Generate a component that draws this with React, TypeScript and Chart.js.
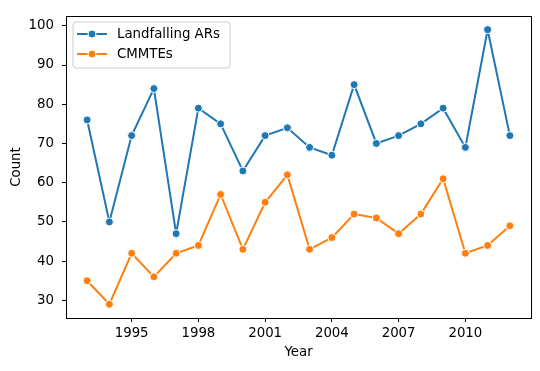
import React, { useEffect, useRef } from "react";
import { Chart, registerables } from "chart.js";

Chart.register(...registerables);

const years = [1993, 1994, 1995, 1996, 1997, 1998, 1999, 2000, 2001, 2002, 2003, 2004, 2005, 2006, 2007, 2008, 2009, 2010, 2011, 2012];
const landfallingARs = [76, 50, 72, 84, 47, 79, 75, 63, 72, 74, 69, 67, 85, 70, 72, 75, 79, 69, 99, 72];
const cmmtes = [35, 29, 42, 36, 42, 44, 57, 43, 55, 62, 43, 46, 52, 51, 47, 52, 61, 42, 44, 49];
const xTicks = [1995, 1998, 2001, 2004, 2007, 2010];
const yTicks = [30, 40, 50, 60, 70, 80, 90, 100];
const seriesNames = ["Landfalling ARs", "CMMTEs"];
const seriesColors = ["#1f77b4", "#ff7f0e"];

const FONT = "DejaVu Sans";
const FS = 13.33;

const framePlugin = {
  id: "frame",
  afterDatasetsDraw(chart: any) {
    const { ctx, chartArea } = chart;
    ctx.save();
    ctx.strokeStyle = "#000";
    ctx.lineWidth = 1;
    const l = Math.round(chartArea.left) + 0.5;
    const t = Math.round(chartArea.top) + 0.5;
    const r = Math.round(chartArea.right) + 0.5;
    const b = Math.round(chartArea.bottom) + 0.5;
    ctx.strokeRect(l, t, r - l, b - t);
    ctx.restore();
  },
};

const legendPlugin = {
  id: "mplLegend",
  afterDraw(chart: any) {
    const { ctx, chartArea } = chart;
    const x0 = chartArea.left + 7;
    const y0 = chartArea.top + 6;
    const w = 157;
    const h = 46;
    ctx.save();
    ctx.beginPath();
    const r = 3;
    ctx.moveTo(x0 + r, y0);
    ctx.lineTo(x0 + w - r, y0);
    ctx.arcTo(x0 + w, y0, x0 + w, y0 + r, r);
    ctx.lineTo(x0 + w, y0 + h - r);
    ctx.arcTo(x0 + w, y0 + h, x0 + w - r, y0 + h, r);
    ctx.lineTo(x0 + r, y0 + h);
    ctx.arcTo(x0, y0 + h, x0, y0 + h - r, r);
    ctx.lineTo(x0, y0 + r);
    ctx.arcTo(x0, y0, x0 + r, y0, r);
    ctx.closePath();
    ctx.fillStyle = "rgba(255,255,255,0.8)";
    ctx.fill();
    ctx.strokeStyle = "#cccccc";
    ctx.lineWidth = 1;
    ctx.stroke();
    seriesNames.forEach((name, i) => {
      const cy = y0 + 12 + i * 20;
      const lx = x0 + 4;
      ctx.strokeStyle = seriesColors[i];
      ctx.lineWidth = 2;
      ctx.beginPath();
      ctx.moveTo(lx, cy);
      ctx.lineTo(lx + 30, cy);
      ctx.stroke();
      ctx.beginPath();
      ctx.arc(lx + 15, cy, 4, 0, Math.PI * 2);
      ctx.fillStyle = seriesColors[i];
      ctx.fill();
      ctx.strokeStyle = "#fff";
      ctx.lineWidth = 1;
      ctx.stroke();
      ctx.fillStyle = "#000";
      ctx.font = `${FS}px "${FONT}"`;
      ctx.textBaseline = "middle";
      ctx.textAlign = "left";
      ctx.fillText(name, lx + 40, cy + 1);
    });
    ctx.restore();
  },
};

export default function App() {
  const ref = useRef<HTMLCanvasElement | null>(null);
  useEffect(() => {
    if (!ref.current) return;
    const mk = (vals: number[]) => years.map((y, i) => ({ x: y, y: vals[i] }));
    const chart = new Chart(ref.current, {
      type: "line",
      data: {
        datasets: [landfallingARs, cmmtes].map((vals, i) => ({
          label: seriesNames[i],
          data: mk(vals),
          borderColor: seriesColors[i],
          backgroundColor: seriesColors[i],
          pointBackgroundColor: seriesColors[i],
          pointBorderColor: "#ffffff",
          pointBorderWidth: 1,
          pointRadius: 4,
          borderWidth: 2,
          tension: 0,
          fill: false,
        })),
      },
      options: {
        animation: false,
        responsive: false,
        devicePixelRatio: 1,
        layout: { padding: { top: 11, right: 9, left: 0, bottom: 0 } },
        plugins: {
          legend: { display: false },
          tooltip: { enabled: false },
        },
        scales: {
          x: {
            type: "linear",
            min: 1992.05,
            max: 2012.95,
            afterBuildTicks: (scale: any) => {
              scale.ticks = xTicks.map((v) => ({ value: v }));
            },
            afterFit: (scale: any) => {
              scale.height = 53;
            },
            ticks: {
              color: "#000",
              font: { family: FONT, size: FS },
              padding: 4,
              maxRotation: 0,
              autoSkip: false,
              callback: (v: any) => String(v),
            },
            grid: { drawOnChartArea: false, drawTicks: true, tickLength: 4, tickColor: "#000", tickWidth: 1 },
            border: { display: false },
            title: {
              display: true,
              text: "Year",
              color: "#000",
              font: { family: FONT, size: FS },
              padding: { top: 0, bottom: 10 },
            },
          },
          y: {
            type: "linear",
            min: 25.5,
            max: 102.5,
            afterBuildTicks: (scale: any) => {
              scale.ticks = yTicks.map((v) => ({ value: v }));
            },
            afterFit: (scale: any) => {
              scale.width = 66;
            },
            ticks: {
              color: "#000",
              font: { family: FONT, size: FS },
              padding: 8,
              callback: (v: any) => String(v),
            },
            grid: { drawOnChartArea: false, drawTicks: true, tickLength: 4, tickColor: "#000", tickWidth: 1 },
            border: { display: false },
            title: {
              display: true,
              text: "Count",
              color: "#000",
              font: { family: FONT, size: FS },
              padding: { top: 9, bottom: 0 },
            },
          },
        },
      },
      plugins: [framePlugin, legendPlugin],
    } as any);
    return () => chart.destroy();
  }, []);
  return (
    <div style={{ position: "absolute", left: 0, top: 0, width: 540, height: 371, background: "#fff" }}>
      <canvas ref={ref} width={540} height={371} style={{ display: "block" }} />
    </div>
  );
}
